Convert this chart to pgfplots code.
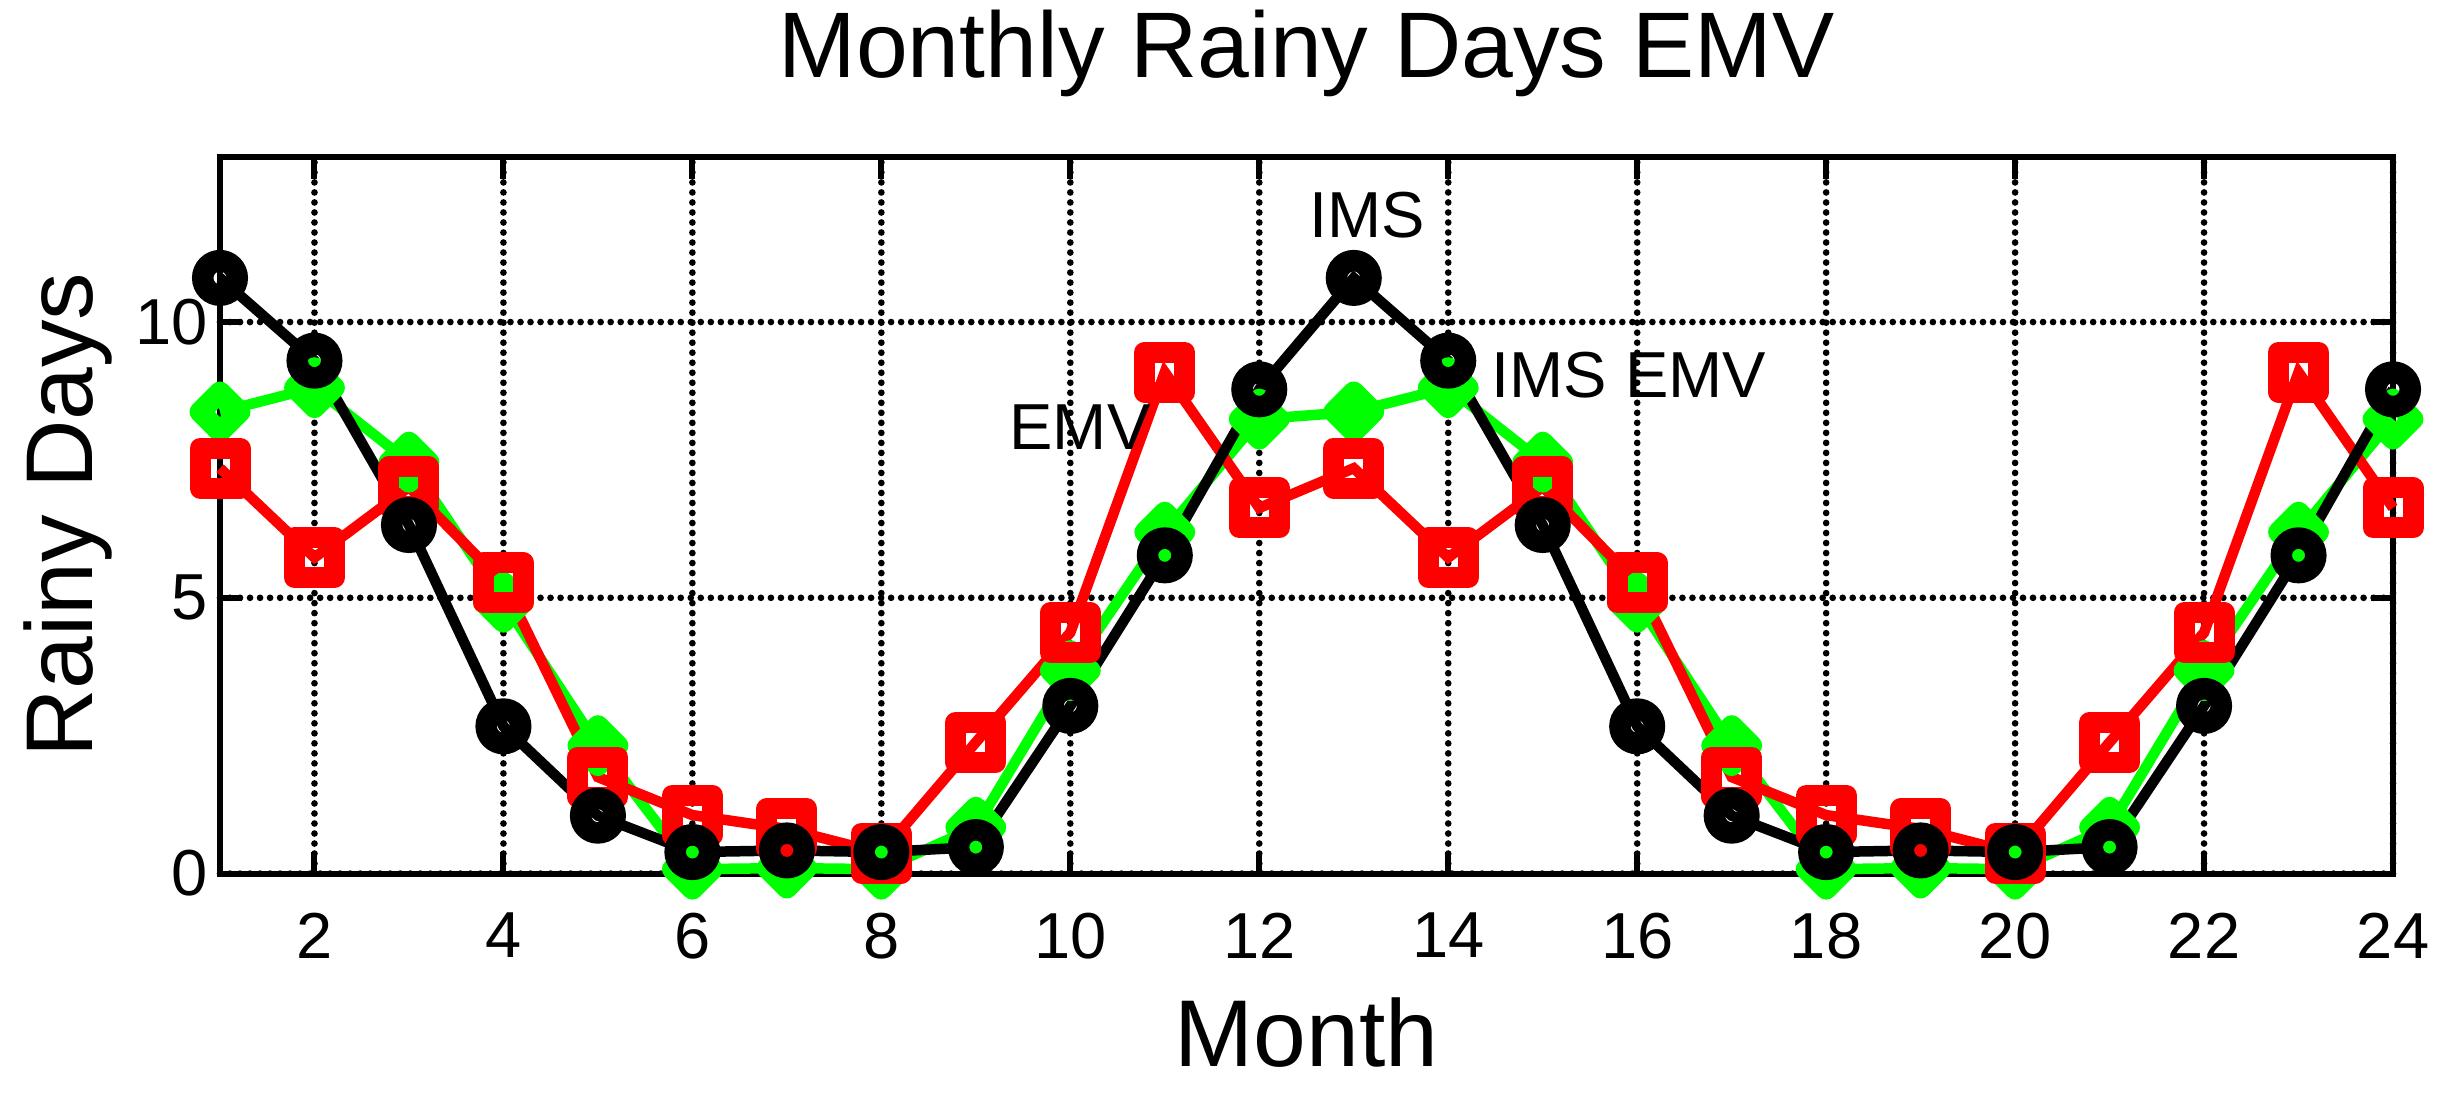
\documentclass[border=0pt]{standalone}
\usepackage{fontspec}
\setmainfont{Liberation Sans}
\usepackage{pgfplots}
\usepackage{pgfplotstable}
\pgfplotsset{compat=1.18}
\definecolor{mgreen}{RGB}{0,255,0}
\definecolor{mred}{RGB}{255,0,0}

\pgfplotstableread{
x ims emv imsemv
1  10.80 7.35 8.37
2  9.30  5.73 8.81
3  6.32  7.01 7.46
4  2.67  5.27 4.92
5  1.05  1.75 2.32
6  0.39  1.06 0.08
7  0.42  0.81 0.10
8  0.39  0.37 0.08
9  0.48  2.38 0.84
10 3.04  4.37 3.68
11 5.77  9.09 6.19
12 8.78  6.63 8.24
13 10.80 7.35 8.37
14 9.30  5.73 8.81
15 6.32  7.01 7.46
16 2.67  5.27 4.92
17 1.05  1.75 2.32
18 0.39  1.06 0.08
19 0.42  0.81 0.10
20 0.39  0.37 0.08
21 0.48  2.38 0.84
22 3.04  4.37 3.68
23 5.77  9.09 6.19
24 8.78  6.63 8.24
}\data

\begin{document}
\begin{tikzpicture}
\begin{axis}[
  scale only axis,
  width=21.73cm, height=7.17cm,
  at={(2.20cm,2.214cm)}, anchor=south west,
  xmin=1, xmax=24, ymin=0, ymax=13,
  xtick={2,4,...,24}, ytick={0,5,10},
  clip=false,
  grid=major,
  major grid style={black, line width=1.9pt, dash pattern=on 0pt off 2.85pt, line cap=round},
  axis line style={black, line width=0.06cm},
  tick align=inside,
  major tick length=0.22cm,
  tick style={black, line width=0.06cm},
  /pgf/number format/assume math mode=true,
  ticklabel style={font=\fontsize{18.5}{20}\selectfont},
  xticklabel style={yshift=-0.27cm},
  title={Monthly Rainy Days EMV},
  title style={font=\fontsize{26.5}{30}\selectfont, at={(0.5,1.0812)}, anchor=base},
  xlabel={Month},
  xlabel style={font=\fontsize{27}{30}\selectfont, at={(0.5,-0.2692)}, anchor=base},
  ylabel={Rainy Days},
  ylabel style={font=\fontsize{27}{30}\selectfont, at={(-0.05845,0.5)}, anchor=base, rotate=0},
]
% lines
\addplot[mgreen, line width=0.105cm, no markers] table[x=x,y=imsemv]{\data};
\addplot[mred, line width=0.105cm, no markers] table[x=x,y=emv]{\data};
\addplot[black, line width=0.105cm, no markers] table[x=x,y=ims]{\data};
% markers
\addplot[mgreen, only marks, mark=square, mark size=0.141cm,
  mark options={rotate=45, line width=0.21cm, line join=round, fill=none}] table[x=x,y=imsemv]{\data};
\addplot[mred, only marks, mark=square, mark size=0.20cm,
  mark options={line width=0.21cm, line join=round, fill=none}] table[x=x,y=emv]{\data};
\addplot[black, only marks, mark=o, mark size=0.1725cm,
  mark options={line width=0.215cm, fill=none}] table[x=x,y=ims]{\data};
% annotations
\node[anchor=west, inner sep=0pt, font=\fontsize{18.5}{20}\selectfont] at (axis cs:9.35,8.09) {EMV};
\node[anchor=west, inner sep=0pt, font=\fontsize{18.5}{20}\selectfont] at (axis cs:12.52,11.94) {IMS};
\node[anchor=west, inner sep=0pt, font=\fontsize{18.5}{20}\selectfont] at (axis cs:14.45,9.03) {IMS EMV};
\end{axis}
\pgfresetboundingbox
\useasboundingbox (0,0) rectangle (24.49cm,10.95cm);
\end{tikzpicture}
\end{document}
